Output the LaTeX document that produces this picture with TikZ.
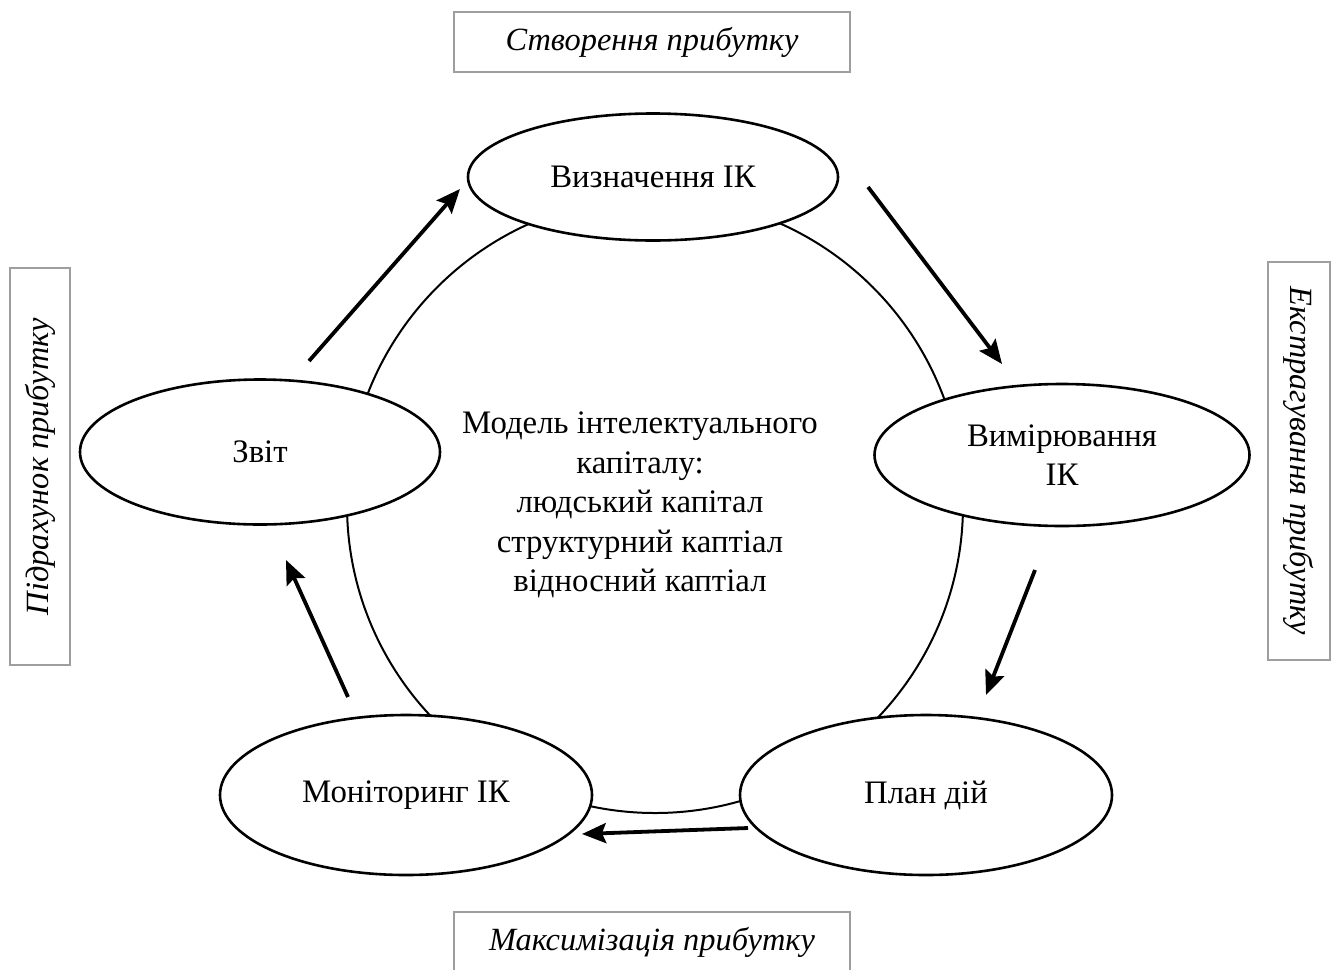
\documentclass[tikz,border=0pt]{standalone}
\usepackage{fontspec}
\setmainfont{Liberation Serif}
\usetikzlibrary{shapes.geometric,arrows.meta}
\begin{document}
\begin{tikzpicture}[x=0.5pt,y=-0.5pt,
  txt/.style={font=\fontsize{16.4}{19.75}\selectfont},
  stage/.style={txt, ellipse, draw, line width=1.3pt, fill=white,
                inner sep=0pt, align=center},
  frame/.style={draw=black!38, line width=1pt, fill=white,
                inner sep=0pt, font=\fontsize{16.2}{19.75}\selectfont\itshape},
  flow/.style={line width=1.9pt, -{Stealth[length=12pt,width=10pt,inset=2pt]}},
  ring/.style={circle, draw, line width=1pt, inner sep=0pt}]
\useasboundingbox (0,0) rectangle (1336,969);

% side captions
\node[frame, minimum width=198pt, minimum height=30pt] (create) at (652,42) {Створення прибутку};
\node[frame, minimum width=198pt, minimum height=30pt] (maxim) at (652,942) {Максимізація прибутку};
\node[frame, rotate=90, minimum width=198.5pt, minimum height=30pt] (count) at (40,466.5) {Підрахунок прибутку};
\node[frame, rotate=-90, minimum width=199pt, minimum height=31pt] (extract) at (1299,461) {Екстрагування прибутку};

% the cycle ring
\node[ring, minimum size=308pt] (cycle) at (655,505) {};

% stages of the cycle
\node[stage, minimum width=185pt, minimum height=63.5pt] (define) at (653,177) {Визначення ІК};
\node[stage, minimum width=187.5pt, minimum height=71pt] (measure) at (1062,455) {Вимірювання\\ІК};
\node[stage, minimum width=186pt, minimum height=80pt] (plan) at (926,795) {План дій};
\node[stage, minimum width=186pt, minimum height=80pt] (monitor) at (406,795) {Моніторинг ІК};
\node[stage, minimum width=180pt, minimum height=72.5pt] (report) at (260,452) {Звіт};

% model in the middle
\node[txt, align=center] (model) at (640,505) {Модель інтелектуального\\капіталу:\\людський капітал\\структурний каптіал\\відносний каптіал};

% direction of the cycle
\coordinate (r1) at (309,361);  \coordinate (d1) at (460,189);
\coordinate (d2) at (868,187);  \coordinate (m1) at (1002,364);
\coordinate (m2) at (1035,570); \coordinate (p1) at (986,695);
\coordinate (p2) at (748,828);  \coordinate (n1) at (582,834);
\coordinate (n2) at (348,697);  \coordinate (s1) at (286,560);
\draw[flow] (r1) -- (d1);
\draw[flow] (d2) -- (m1);
\draw[flow] (m2) -- (p1);
\draw[flow] (p2) -- (n1);
\draw[flow] (n2) -- (s1);
\end{tikzpicture}
\end{document}
